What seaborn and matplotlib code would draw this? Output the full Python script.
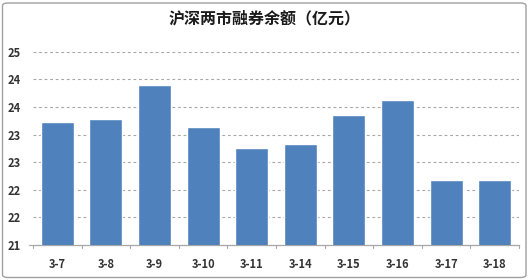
import matplotlib
matplotlib.use("Agg")
import matplotlib.pyplot as plt
import seaborn as sns
import pandas as pd
import numpy as np
from matplotlib.patches import FancyBboxPatch
from matplotlib.ticker import FixedLocator, FuncFormatter
import math

categories = ["3-7", "3-8", "3-9", "3-10", "3-11", "3-14", "3-15", "3-16", "3-17", "3-18"]
values = [23.22, 23.28, 23.89, 23.14, 22.76, 22.83, 23.35, 23.63, 22.18, 22.18]
y_ticks = [21.0, 21.5, 22.0, 22.5, 23.0, 23.5, 24.0, 24.5]
title = "沪深两市融券余额（亿元）"

sns.set_theme(style="white")
plt.rcParams['font.family'] = ['Noto Sans CJK SC', 'DejaVu Sans']

df = pd.DataFrame({"date": categories, "value": values})

fig = plt.figure(figsize=(5.29, 2.80), dpi=100)
ax = fig.add_axes([33/529, 1 - 245/280, (519 - 33)/529, (245 - 51.7)/280])

sns.barplot(data=df, x="date", y="value", color="#4F81BD", saturation=1,
            width=0.68, ax=ax, zorder=3)

ax.set_ylim(21, 24.5)
ax.set_xlim(-0.5, len(categories) - 0.5)
ax.yaxis.set_major_locator(FixedLocator(y_ticks))
ax.yaxis.set_major_formatter(FuncFormatter(lambda v, p: str(int(math.floor(v + 0.5)))))
for t in y_ticks[1:]:
    ax.axhline(t, color="#A6A6A6", lw=0.8, ls=(0, (2.5, 2.5)), zorder=1)

for s in ["top", "right", "left"]:
    ax.spines[s].set_visible(False)
ax.spines["bottom"].set_color("#A6A6A6")
ax.spines["bottom"].set_linewidth(0.9)

ax.set_xlabel("")
ax.set_ylabel("")
ax.tick_params(axis="y", length=0, pad=9, labelsize=8, labelcolor="#333333")
ax.tick_params(axis="x", length=0, pad=9, labelsize=8, labelcolor="#333333")
for lab in ax.get_xticklabels() + ax.get_yticklabels():
    lab.set_fontweight("bold")

# category boundary tick marks on x axis
for b in np.arange(-0.5, len(categories) + 0.5, 1.0):
    ax.plot([b, b], [21, 21 - 0.06], color="#A6A6A6", lw=0.8, clip_on=False, zorder=4)
# y-axis bottom tick
ax.plot([-0.5 - 0.08, -0.5], [21, 21], color="#A6A6A6", lw=0.8, clip_on=False)

fig.text(0.5, 1 - 18/280, title, ha="center", va="center", fontsize=11.5,
         fontweight="bold", color="#1a1a1a")

border = FancyBboxPatch((2.5/529, 2.5/280), 523.5/529, 274.5/280,
                        boxstyle="round,pad=0,rounding_size=0.01",
                        transform=fig.transFigure, fill=False,
                        edgecolor="#A0A0A0", lw=1.0)
fig.patches.append(border)

fig.savefig("out.png", dpi=100)
